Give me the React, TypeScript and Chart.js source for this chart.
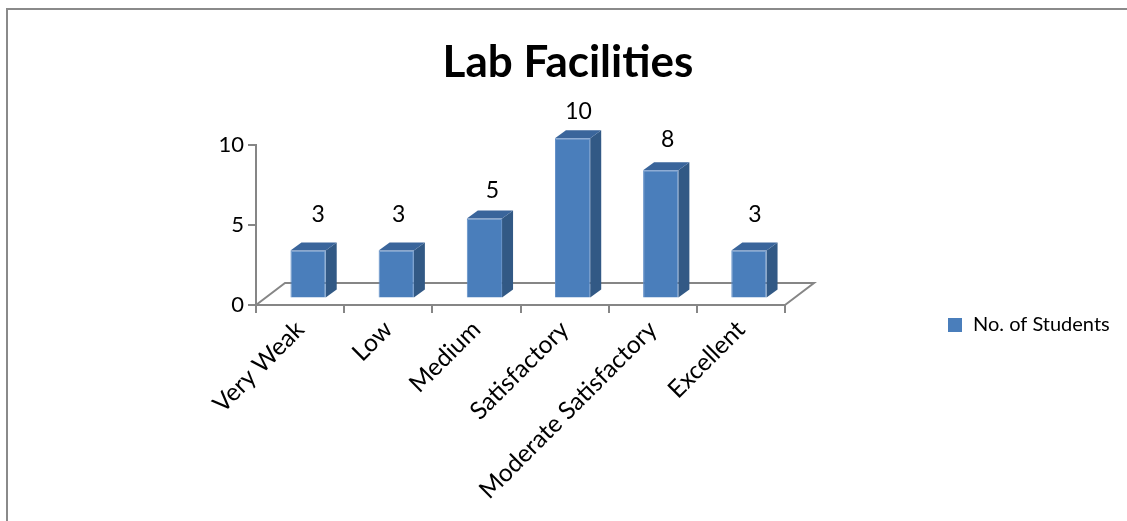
import React, { useEffect, useRef } from "react";
import { Chart, registerables } from "chart.js";

Chart.register(...registerables);

const categories = ["Very Weak", "Low", "Medium", "Satisfactory", "Moderate Satisfactory", "Excellent"];
const students = [3, 3, 5, 10, 8, 3];
const seriesName = "No. of Students";
const yTicks = [0, 5, 10];

const FONT = "Lato, 'Open Sans', sans-serif";
const AXIS = "#868686";
const FRONT = "#4A7EBB";
const TOP = "#3A659B";
const SIDE = "#325985";
// perspective offsets (px)
const barShift = { x: 8, y: -6.5 };
const barDepth = { x: 11, y: -8 };
const floorDepth = { x: 29, y: -22 };
const labelNudge = [
  { x: 10, y: -36 },
  { x: 2.5, y: -36 },
  { x: 8, y: -28 },
  { x: 6, y: -27 },
  { x: 7, y: -31 },
  { x: 6, y: -36 },
];

const fakeThreeD = {
  id: "fakeThreeD",
  afterLayout(chart: any) {
    // centre the title on the whole chart box, not only on the plot side
    if (chart.titleBlock) {
      chart.titleBlock.left = 0;
      chart.titleBlock.right = 1136;
    }
  },
  beforeDraw(chart: any) {
    const { ctx, width, height } = chart;
    ctx.save();
    ctx.strokeStyle = "#8a8a8a";
    ctx.lineWidth = 2;
    ctx.strokeRect(7, 9, width + 20, height + 20);
    ctx.restore();
  },
  beforeDatasetsDraw(chart: any) {
    const { ctx, chartArea: a } = chart;
    ctx.save();
    ctx.strokeStyle = AXIS;
    ctx.lineWidth = 2;
    ctx.beginPath();
    ctx.moveTo(a.left, a.bottom);
    ctx.lineTo(a.left + floorDepth.x, a.bottom + floorDepth.y);
    ctx.lineTo(a.right + floorDepth.x, a.bottom + floorDepth.y);
    ctx.lineTo(a.right, a.bottom);
    ctx.stroke();
    ctx.restore();

    ctx.save();
    ctx.translate(barShift.x, barShift.y);
    const meta = chart.getDatasetMeta(0);
    meta.data.forEach((bar: any) => {
      const hw = bar.width / 2;
      const l = bar.x - hw;
      const r = bar.x + hw;
      const t = bar.y;
      const b = bar.base;
      ctx.fillStyle = SIDE;
      ctx.beginPath();
      ctx.moveTo(r, t);
      ctx.lineTo(r + barDepth.x, t + barDepth.y);
      ctx.lineTo(r + barDepth.x, b + barDepth.y);
      ctx.lineTo(r, b);
      ctx.closePath();
      ctx.fill();
      ctx.fillStyle = TOP;
      ctx.beginPath();
      ctx.moveTo(l, t);
      ctx.lineTo(l + barDepth.x, t + barDepth.y);
      ctx.lineTo(r + barDepth.x, t + barDepth.y);
      ctx.lineTo(r, t);
      ctx.closePath();
      ctx.fill();
    });
  },
  afterDatasetsDraw(chart: any) {
    const { ctx } = chart;
    ctx.restore();
    const meta = chart.getDatasetMeta(0);
    ctx.save();
    ctx.fillStyle = "#000";
    ctx.font = `23px ${FONT}`;
    ctx.textAlign = "center";
    ctx.textBaseline = "middle";
    meta.data.forEach((bar: any, i: number) => {
      const n = labelNudge[i];
      ctx.fillText(String(students[i]), bar.x + barShift.x + n.x, bar.y + barShift.y + n.y);
    });
    ctx.restore();
  },
};

export default function App() {
  const ref = useRef<HTMLCanvasElement>(null);
  useEffect(() => {
    const chart = new Chart(ref.current!, {
      type: "bar",
      data: {
        labels: categories,
        datasets: [
          {
            label: seriesName,
            data: students,
            backgroundColor: FRONT,
            borderColor: "#5F8DC6",
            borderWidth: 1,
            barPercentage: 0.8,
            categoryPercentage: 0.5,
            clip: false,
          } as any,
        ],
      },
      options: {
        animation: false,
        responsive: false,
        layout: { padding: { top: 0, right: 342, bottom: 0, left: 0 } },
        plugins: {
          tooltip: { enabled: false },
          title: {
            display: true,
            text: "Lab Facilities",
            color: "#000",
            font: { family: FONT, size: 44, weight: "bold" },
            padding: { top: 36, bottom: 56 },
            fullSize: true,
          },
          legend: {
            display: false,
          },
        },
        scales: {
          x: {
            offset: true,
            grid: { offset: true, drawOnChartArea: false, color: AXIS, lineWidth: 2, tickLength: 8 },
            border: { color: AXIS, width: 2 },
            ticks: { color: "#000", font: { family: FONT, size: 24.5 }, minRotation: 45, maxRotation: 45, padding: 2, autoSkip: false },
            afterFit: (s: any) => { s.height = 216; },
          },
          y: {
            min: 0,
            max: 10,
            afterBuildTicks: (s: any) => { s.ticks = yTicks.map((value) => ({ value })); },
            grid: { drawOnChartArea: false, color: AXIS, lineWidth: 2, tickLength: 8 },
            border: { color: AXIS, width: 2 },
            ticks: { color: "#000", font: { family: FONT, size: 22 }, padding: 4 },
            afterFit: (s: any) => { s.width = 256; },
          },
        },
      },
      plugins: [
        fakeThreeD,
        {
          id: "sideLegend",
          afterDraw(c: any) {
            const { ctx } = c;
            ctx.save();
            ctx.fillStyle = FRONT;
            ctx.fillRect(948, 318, 14, 14);
            ctx.fillStyle = "#000";
            ctx.font = `20px ${FONT}`;
            ctx.textBaseline = "middle";
            ctx.textAlign = "left";
            ctx.fillText(c.data.datasets[0].label, 973, 325);
            ctx.restore();
          },
        },
      ],
    } as any);
    return () => chart.destroy();
  }, []);
  return (
    <div style={{ position: "absolute", left: 0, top: 0, width: 1127, height: 521, background: "#fff" }}>
      <canvas ref={ref} width={1127} height={521} style={{ display: "block" }} />
    </div>
  );
}
